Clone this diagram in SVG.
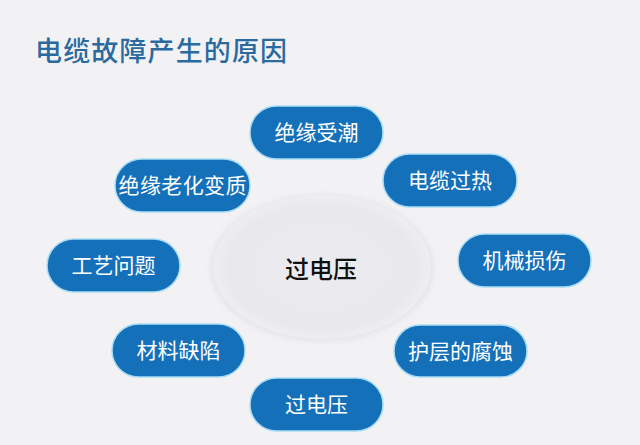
<svg xmlns="http://www.w3.org/2000/svg" width="640" height="445" viewBox="0 0 640 445">
  <defs>
    <radialGradient id="ellG" cx="50%" cy="50%" r="50%">
      <stop offset="0%" stop-color="#ececf0"/>
      <stop offset="85%" stop-color="#e9e9ed"/>
      <stop offset="100%" stop-color="#eeeef2"/>
    </radialGradient>
    <filter id="soft" x="-20%" y="-20%" width="140%" height="140%">
      <feGaussianBlur stdDeviation="3"/>
    </filter>
  </defs>
  <style>
    .pill { fill: #1570ba; stroke: #a8dcf4; stroke-width: 1.5; }
    .pt { font-family: "Noto Sans CJK SC", "Liberation Sans", sans-serif; font-size: 21px; fill: #ffffff; text-anchor: middle; }
    .title { font-family: "Noto Sans CJK SC", "Liberation Sans", sans-serif; font-size: 27px; font-weight: 500; fill: #2a6a9e; }
    .ct { font-family: "Noto Sans CJK SC", "Liberation Sans", sans-serif; font-size: 24px; font-weight: 500; fill: #111111; text-anchor: middle; }
  </style>
  <rect width="640" height="445" fill="#f2f2f5"/>
  <text class="title" x="35" y="61" textLength="252">电缆故障产生的原因</text>

  <g id="center">
    <ellipse cx="322" cy="268" rx="111" ry="73" fill="#e2e2e7" filter="url(#soft)"/>
    <ellipse cx="322" cy="267" rx="109" ry="72" fill="url(#ellG)"/>
    <text class="ct" x="321" y="278">过电压</text>
  </g>

  <g id="connectors"></g>

  <g id="n1">
    <rect class="pill" x="250" y="106" width="133" height="53" rx="26.5"/>
    <text class="pt" x="316.5" y="140">绝缘受潮</text>
  </g>
  <g id="n2">
    <rect class="pill" x="115" y="159" width="135" height="53" rx="26.5"/>
    <text class="pt" x="182.5" y="193" textLength="128">绝缘老化变质</text>
  </g>
  <g id="n3">
    <rect class="pill" x="383" y="154" width="134" height="53" rx="26.5"/>
    <text class="pt" x="450" y="188">电缆过热</text>
  </g>
  <g id="n4">
    <rect class="pill" x="47" y="239" width="133" height="53" rx="26.5"/>
    <text class="pt" x="113.5" y="273">工艺问题</text>
  </g>
  <g id="n5">
    <rect class="pill" x="458" y="234" width="133" height="53" rx="26.5"/>
    <text class="pt" x="524.5" y="268">机械损伤</text>
  </g>
  <g id="n6">
    <rect class="pill" x="112" y="324" width="133" height="53" rx="26.5"/>
    <text class="pt" x="178.5" y="358">材料缺陷</text>
  </g>
  <g id="n7">
    <rect class="pill" x="394" y="325" width="133" height="52" rx="26"/>
    <text class="pt" x="460.5" y="358.5">护层的腐蚀</text>
  </g>
  <g id="n8">
    <rect class="pill" x="250" y="378" width="133" height="53" rx="26.5"/>
    <text class="pt" x="316.5" y="412">过电压</text>
  </g>
</svg>
